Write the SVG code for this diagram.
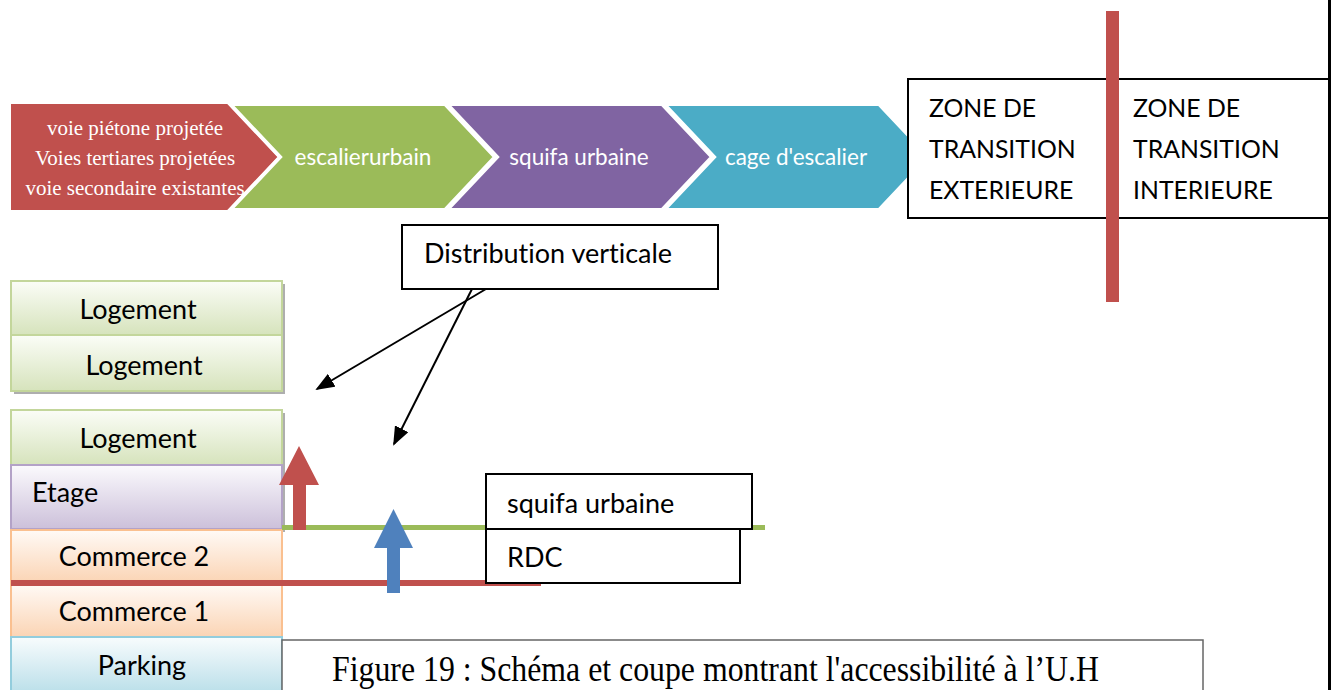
<svg xmlns="http://www.w3.org/2000/svg" width="1333" height="690" viewBox="0 0 1333 690">
<defs>
<linearGradient id="gGreen" x1="0" y1="0" x2="0" y2="1"><stop offset="0" stop-color="#fbfdf7"/><stop offset="1" stop-color="#d6e3bc"/></linearGradient>
<linearGradient id="gPurple" x1="0" y1="0" x2="0" y2="1"><stop offset="0" stop-color="#fbfafd"/><stop offset="1" stop-color="#ccc0da"/></linearGradient>
<linearGradient id="gOrange" x1="0" y1="0" x2="0" y2="1"><stop offset="0" stop-color="#fffaf6"/><stop offset="1" stop-color="#fbd4b4"/></linearGradient>
<linearGradient id="gBlue" x1="0" y1="0" x2="0" y2="1"><stop offset="0" stop-color="#f8fcfd"/><stop offset="1" stop-color="#b6dde8"/></linearGradient>
<marker id="ah" viewBox="0 0 10 10" refX="9" refY="5" markerWidth="19" markerHeight="15" markerUnits="userSpaceOnUse" orient="auto" preserveAspectRatio="none"><path d="M0,0 L10,5 L0,10 z" fill="#000"/></marker>
</defs>
<style>
text{font-variant-ligatures:none;}
.sans{font-family:Lato,"Open Sans","Liberation Sans",sans-serif;}
.serif{font-family:"Liberation Serif","Times New Roman",serif;}
.chev{stroke:#fff;stroke-width:4;stroke-linejoin:miter;}
.ct{fill:#fff;font-size:22.5px;}
.lbl{fill:#000;font-size:27px;}
.zt{fill:#000;font-size:24.8px;}
.box{fill:#fff;stroke:#000;stroke-width:2;}
.shadow{fill:#9a9a9a;opacity:0.8;}
.conn{stroke:#000;stroke-width:2;fill:none;}
</style>
<rect width="1333" height="690" fill="#fff"/>

<g id="chevrons">
<g id="c-voies">
<path d="M11,104 L228,104 L278,157 L228,210 L11,210 Z" fill="#c0504d"/>
<text class="serif" fill="#fff" font-size="21" text-anchor="middle"><tspan x="135" y="135">voie piétone projetée</tspan><tspan x="135" y="165">Voies tertiares projetées</tspan><tspan x="135" y="195">voie secondaire existantes</tspan></text>
</g>
<g id="c-escalier">
<path class="chev" d="M230,104 L445,104 L495,157 L445,210 L230,210 L280,157 Z" fill="#9bbb59"/>
<text class="sans ct" x="363" y="165" text-anchor="middle">escalierurbain</text>
</g>
<g id="c-squifa">
<path class="chev" d="M447,104 L662,104 L712,157 L662,210 L447,210 L497,157 Z" fill="#8064a2"/>
<text class="sans ct" x="579" y="165" text-anchor="middle">squifa urbaine</text>
</g>
<g id="c-cage">
<path class="chev" d="M664,104 L879,104 L929,157 L879,210 L664,210 L714,157 Z" fill="#4bacc6"/>
<text class="sans ct" x="796" y="165" text-anchor="middle">cage d'escalier</text>
</g>
</g>

<g id="zone-box">
<rect x="908" y="79" width="422" height="139" fill="#fff" stroke="#000" stroke-width="2"/>
<text class="sans zt"><tspan x="929" y="117">ZONE DE</tspan><tspan x="929" y="158">TRANSITION</tspan><tspan x="929" y="199">EXTERIEURE</tspan></text>
<text class="sans zt"><tspan x="1133" y="117">ZONE DE</tspan><tspan x="1133" y="158">TRANSITION</tspan><tspan x="1133" y="199">INTERIEURE</tspan></text>
</g>
<rect id="red-bar" x="1106" y="11" width="13" height="291" fill="#c0504d"/>
<rect id="right-edge" x="1328" y="0" width="3" height="690" fill="#000"/>

<g id="dist-box">
<rect class="box" x="402" y="225" width="316" height="64"/>
<text class="sans lbl" x="424" y="263">Distribution verticale</text>
</g>

<g id="stack">
<g id="logement1">
<rect class="shadow" x="14" y="284" width="271" height="110"/>
<rect x="11" y="281" width="271" height="54" fill="url(#gGreen)" stroke="#c3d69b" stroke-width="2"/>
<text class="sans lbl" x="138" y="319" text-anchor="middle">Logement</text>
</g>
<g id="logement2">
<rect x="11" y="335" width="271" height="56" fill="url(#gGreen)" stroke="#c3d69b" stroke-width="2"/>
<text class="sans lbl" x="144" y="375" text-anchor="middle">Logement</text>
</g>
<rect class="shadow" x="14" y="413" width="271" height="119"/>
<g id="logement3">
<rect x="11" y="410" width="271" height="55" fill="url(#gGreen)" stroke="#c3d69b" stroke-width="2"/>
<text class="sans lbl" x="138" y="448" text-anchor="middle">Logement</text>
</g>
<g id="etage">
<rect x="11" y="465" width="271" height="64" fill="url(#gPurple)" stroke="#b3a2c7" stroke-width="2"/>
<text class="sans lbl" x="32" y="502">Etage</text>
</g>
<g id="commerce2">
<rect x="11" y="530" width="271" height="53" fill="url(#gOrange)" stroke="#fac090" stroke-width="2"/>
<text class="sans lbl" x="134" y="566" text-anchor="middle">Commerce 2</text>
</g>
<g id="commerce1">
<rect x="11" y="584" width="271" height="53" fill="url(#gOrange)" stroke="#fac090" stroke-width="2"/>
<text class="sans lbl" x="134" y="621" text-anchor="middle">Commerce 1</text>
</g>
<g id="parking">
<rect x="11" y="637" width="271" height="60" fill="url(#gBlue)" stroke="#93cddd" stroke-width="2"/>
<text class="sans lbl" x="142" y="675" text-anchor="middle">Parking</text>
</g>
</g>

<g id="levels">
<rect x="282" y="525" width="483" height="5" fill="#9bbb59"/>
<rect x="11" y="580" width="530" height="6" fill="#c0504d"/>
</g>

<g id="squifa-box">
<rect class="box" x="486" y="474" width="266" height="55"/>
<text class="sans lbl" x="507" y="513">squifa urbaine</text>
</g>
<g id="rdc-box">
<rect class="box" x="486" y="529" width="254" height="54"/>
<text class="sans lbl" x="507" y="567">RDC</text>
</g>

<g id="connectors">
<line class="conn" x1="486" y1="289" x2="317" y2="389" marker-end="url(#ah)"/>
<line class="conn" x1="472" y1="289" x2="394" y2="444" marker-end="url(#ah)"/>
<path d="M293,530 L293,485 L279,485 L299,446 L319,485 L306,485 L306,530 Z" fill="#c0504d"/>
<path d="M387,593 L387,548 L374,548 L393.5,509 L413,548 L400,548 L400,593 Z" fill="#4f81bd"/>
</g>

<g id="caption">
<rect x="282" y="640" width="921" height="60" fill="#fff" stroke="#666" stroke-width="1.5"/>
<text class="serif" x="332" y="681" font-size="35" fill="#000" textLength="767" lengthAdjust="spacingAndGlyphs">Figure 19 : Schéma et coupe montrant l'accessibilité à l’U.H</text>
</g>
</svg>
